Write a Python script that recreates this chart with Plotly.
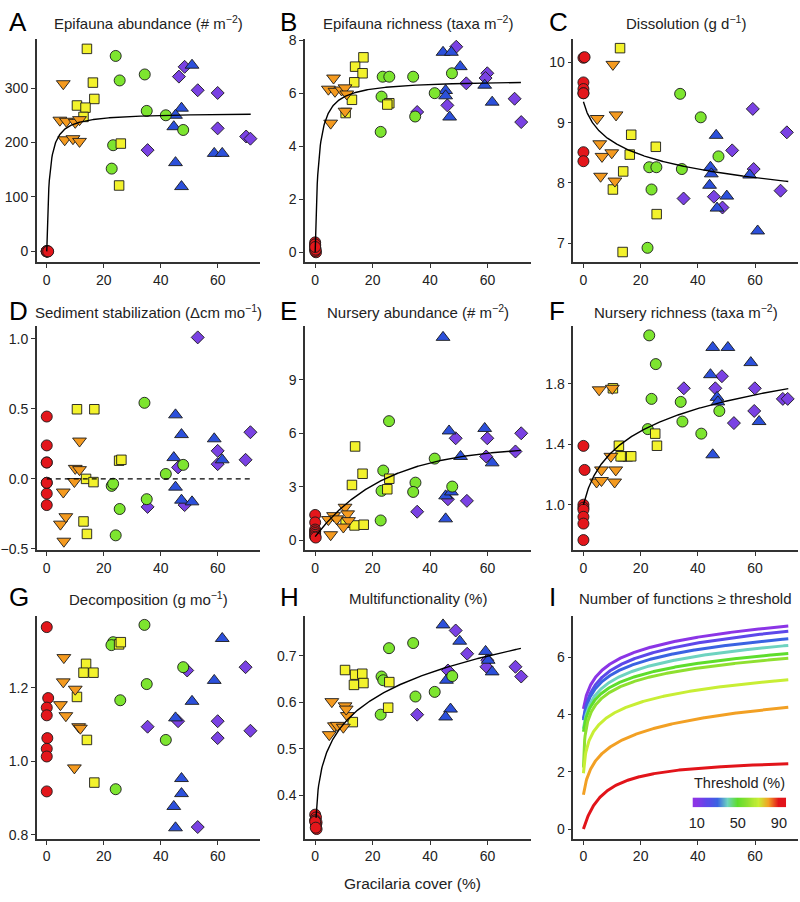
import numpy as np
import plotly.graph_objects as go

W, H = 800, 902

# ---------------- data (Gracilaria cover %, response) ----------------
epifauna_abundance = {
    "red":    ([0, 0, 0, 0, 0.3, 0.3, 0, 0.5], [0, 0, 0, 0, 0, 0, 0, 0]),
    "orange": ([5.8, 4.6, 6.9, 6.3, 9.2, 10, 11.5, 11.5], [308, 241, 239, 205, 207, 237, 202, 242]),
    "yellow": ([14.1, 16.2, 16.7, 10.6, 13.6, 12.9, 26, 25.4], [372, 310, 280, 268, 264, 247, 198, 121]),
    "green":  ([24.2, 25.6, 34.4, 35.1, 41.8, 47.9, 23.3, 22.8], [359, 314, 325, 258, 250, 223, 195, 152]),
    "blue":   ([51, 47.3, 45.2, 44.6, 45.2, 47.3, 58.8, 61.6], [342, 263, 250, 229, 163, 119, 180, 180]),
    "purple": ([48.4, 46.4, 53, 60, 60, 35.4, 70, 71.5], [339, 321, 296, 291, 226, 186, 211, 207]),
}
epifauna_richness = {
    "red":    ([0, 0, 0, 0.3, 0, 0, 0.2, 0], [0.375, 0.25, 0.125, 0, 0.05, 0.3, 0.1, 0.2]),
    "orange": ([6.4, 4.6, 6.9, 5.4, 9.2, 10.4, 11, 10.4], [6.57, 6.15, 6.07, 4.87, 6.12, 6.2, 5.97, 5.32]),
    "yellow": ([16.8, 13.9, 16.5, 13.6, 12.8, 10.6, 25.8, 25.1], [7.35, 7.0, 6.75, 6.41, 5.75, 5.25, 5.62, 5.57]),
    "green":  ([23.5, 25.8, 34.1, 23.1, 22.8, 34.8, 41.6, 47.6], [6.62, 6.62, 6.62, 5.87, 4.54, 5.12, 6.0, 6.75]),
    "blue":   ([44.5, 47.4, 50.5, 45.4, 45.4, 46.8, 59, 61.6], [7.54, 7.54, 7.0, 6.1, 5.9, 5.1, 6.3, 5.66]),
    "purple": ([49.1, 52.6, 59.9, 59.3, 46, 35.5, 69.4, 71.7], [7.75, 6.37, 6.75, 6.57, 5.54, 5.29, 5.79, 4.91]),
}
dissolution = {
    "red":    ([0, 0.4, 0, 0, 0, 0, 0, 0], [10.08, 10.09, 9.67, 9.56, 9.49, 8.51, 8.36, 9.49]),
    "orange": ([10.3, 4.8, 11.4, 5.7, 6.5, 9.9, 6.0, 11.0], [9.97, 9.07, 9.13, 8.65, 8.44, 8.5, 8.11, 8.03]),
    "yellow": ([12.8, 16.7, 16.2, 25.3, 13.9, 10.3, 25.6, 13.7], [10.24, 8.8, 8.47, 8.6, 8.19, 7.89, 7.48, 6.85]),
    "green":  ([33.8, 41, 47.2, 34.4, 23, 25.5, 23.8, 22.4], [9.48, 9.09, 8.44, 8.23, 8.26, 8.26, 7.89, 6.92]),
    "blue":   ([46.4, 44.4, 44.7, 44.1, 58.1, 50.1, 46.7, 60.9], [8.79, 8.26, 8.15, 7.96, 8.13, 7.78, 7.58, 7.2]),
    "purple": ([59.2, 71.1, 52, 59.5, 35, 45.6, 48.6, 68.9], [9.23, 8.84, 8.54, 8.23, 7.74, 7.77, 7.59, 7.87]),
}
sediment_stabilization = {
    "red":    ([0, 0, 0, 0, 0, 0, 0, 0], [0.445, 0.239, 0.117, -0.028, -0.105, -0.187, 0.117, -0.028]),
    "orange": ([11.5, 10, 11.5, 9.7, 5.8, 4.8, 6.7, 6.0], [0.27, 0.075, 0.066, -0.019, -0.094, -0.323, -0.27, -0.445]),
    "yellow": ([10.6, 16.7, 13.8, 16.4, 12.9, 14.1, 25.4, 26.2], [0.497, 0.497, 0.0, -0.023, -0.304, -0.393, 0.13, 0.136]),
    "green":  ([34.3, 22.8, 23.3, 25.6, 24.2, 35.1, 41.8, 47.9], [0.543, -0.05, -0.035, -0.215, -0.403, -0.145, 0.035, 0.1]),
    "blue":   ([45.2, 47.3, 44.6, 45.2, 47.3, 51, 58.8, 61.6], [0.457, 0.316, 0.152, -0.059, -0.152, -0.164, 0.286, 0.136]),
    "purple": ([53, 60, 60, 69.8, 71.5, 46.1, 48.4, 35.4], [1.01, 0.2, 0.105, 0.136, 0.333, 0.082, -0.187, -0.2]),
}
nursery_abundance = {
    "red":    ([0, 0, 0, 0, 0, 0, 0, 0.2], [1.42, 1.0, 0.6, 0.5, 0.4, 0.3, 0.2, 0.15]),
    "orange": ([10.4, 4.6, 6.4, 7.5, 11.3, 11.6, 5.4, 9.8], [1.85, 1.16, 1.38, 1.2, 1.48, 1.1, 0.31, 0.74]),
    "yellow": ([13.9, 16.5, 12.8, 25.8, 25.1, 10.6, 13.7, 16.9], [5.26, 3.73, 3.1, 3.45, 2.86, 0.98, 0.83, 0.87]),
    "green":  ([25.7, 23.7, 23.1, 22.8, 34.9, 34.1, 41.6, 47.7], [6.68, 3.91, 2.77, 1.11, 3.23, 2.71, 4.58, 3.01]),
    "blue":   ([44.5, 46.6, 59, 50.6, 61.6, 45.4, 47.4, 45.4], [11.38, 6.13, 6.27, 4.7, 4.34, 2.49, 2.71, 1.2]),
    "purple": ([48.9, 59.9, 71.7, 59.5, 69.7, 46.2, 52.8, 35.5], [5.72, 5.72, 6.0, 4.7, 4.98, 2.3, 2.21, 1.6]),
}
nursery_richness = {
    "red":    ([0, 0.4, 0, 0, 0, 0, 0, 0], [1.389, 1.23, 1.0, 0.98, 0.967, 0.92, 0.875, 0.766]),
    "orange": ([5.5, 10.1, 9.6, 6.3, 11.3, 4.6, 6.3, 10.9], [1.76, 1.77, 1.32, 1.23, 1.23, 1.15, 1.16, 1.15]),
    "yellow": ([10.3, 12.4, 13.6, 15.5, 16.7, 25.1, 25.7, 13.0], [1.77, 1.39, 1.32, 1.32, 1.32, 1.47, 1.39, 1.32]),
    "green":  ([23, 25.3, 23.8, 22.5, 34, 34.6, 41.2, 47.5], [2.12, 1.93, 1.70, 1.50, 1.68, 1.55, 1.47, 1.62]),
    "blue":   ([45.2, 50.5, 58.5, 44.4, 46.7, 47, 61.4, 45.2], [2.04, 2.04, 1.94, 1.86, 1.71, 1.68, 1.55, 1.33]),
    "purple": ([48.4, 35.1, 46.1, 59.9, 59.7, 52.6, 69.7, 71.4], [1.85, 1.77, 1.77, 1.77, 1.62, 1.54, 1.70, 1.70]),
}
decomposition = {
    "red":    ([0, 0.5, 0, 0, 0.2, 0, 0, 0], [1.365, 1.172, 1.146, 1.125, 1.063, 1.034, 1.013, 0.918]),
    "orange": ([6, 5.8, 4.8, 6.7, 10, 11.2, 11.8, 9.7], [1.282, 1.216, 1.154, 1.124, 1.196, 1.094, 1.09, 0.982]),
    "yellow": ([13.8, 12.9, 16.4, 10.6, 14.1, 16.7, 25.4, 26], [1.265, 1.241, 1.241, 1.175, 1.058, 0.942, 1.318, 1.324]),
    "green":  ([34.3, 23.3, 22.7, 47.9, 35.1, 25.8, 41.8, 24.2], [1.371, 1.324, 1.316, 1.256, 1.21, 1.166, 1.058, 0.924]),
    "blue":   ([61.6, 58.8, 51, 45.2, 47.3, 47.3, 44.6, 45.2], [1.334, 1.22, 1.163, 1.118, 0.953, 0.912, 0.877, 0.819]),
    "purple": ([69.8, 49.3, 46.1, 60, 60, 71.5, 35.4, 53], [1.256, 1.247, 1.109, 1.109, 1.063, 1.083, 1.094, 0.821]),
}
multifunctionality = {
    "red":    ([0, 0.3, 0, 0.5, 0.3, 0.5, 0, 0.2], [0.358, 0.352, 0.346, 0.341, 0.336, 0.327, 0.343, 0.33]),
    "orange": ([5.8, 10.4, 11.2, 4.9, 6.7, 7.7, 9.8, 10.8], [0.601, 0.592, 0.571, 0.530, 0.549, 0.550, 0.546, 0.585]),
    "yellow": ([10.4, 13.9, 16.4, 13.5, 16.8, 13.1, 25.4, 25.8], [0.669, 0.659, 0.661, 0.637, 0.641, 0.557, 0.588, 0.643]),
    "green":  ([25.7, 34.1, 23.1, 23.7, 22.8, 34.9, 41.6, 47.7], [0.716, 0.727, 0.655, 0.647, 0.573, 0.612, 0.622, 0.656]),
    "blue":   ([44.5, 50.3, 59.3, 61.6, 45.7, 47.1, 45.4, 60.2], [0.766, 0.731, 0.709, 0.665, 0.647, 0.585, 0.568, 0.69]),
    "purple": ([48.9, 52.9, 46.2, 59.9, 59.6, 69.7, 71.7, 35.5], [0.754, 0.704, 0.668, 0.69, 0.676, 0.676, 0.655, 0.573]),
}

# fitted model lines (kind, parameters)
fit_A = ("mm", (255, 0.86))
fit_B = ("mm", (6.5, 1.1))
fit_C = ("log", (9.605, -0.368, 2.0))
fit_E = ("exp", (0.2, 5.1, 24.0))
fit_F = ("log", (0.737, 0.239, 3.0))
fit_H = ("pow", (0.4106, 0.13))
cover_max = 71.6

# panel I: number of functions >= threshold
thresholds = [10, 20, 30, 40, 50, 60, 70, 80, 90]
threshold_colors = ["#8B35E6", "#5C48EA", "#3A63E2", "#6ED3C0", "#5EDD2C",
                    "#8FE030", "#C8EE35", "#F2A024", "#E2141A"]
threshold_fits = [
    ("log", (4.167, 0.683, 1.05)),
    ("log", (3.886, 0.705, 0.95)),
    ("log", (3.834, 0.657, 0.95)),
    ("log", (3.644, 0.647, 0.80)),
    ("log", (3.572, 0.598, 0.75)),
    ("log", (3.485, 0.580, 0.10)),
    ("log", (2.553, 0.623, 0.38)),
    ("log", (1.200, 0.714, 1.00)),
    ("mm", (2.51, 7.29)),
]
threshold_scale_range = (6, 97)
threshold_ticks = [10, 50, 90]

group_order = ["purple", "blue", "green", "yellow", "orange", "red"]
group_style = {
    "red":    dict(symbol="circle", color="#E3161B", size=11),
    "orange": dict(symbol="triangle-down", color="#F49A1F", size=12),
    "yellow": dict(symbol="square", color="#F3F22C", size=9.5),
    "green":  dict(symbol="circle", color="#7DE52F", size=11),
    "blue":   dict(symbol="triangle-up", color="#2C50DB", size=12),
    "purple": dict(symbol="diamond", color="#7A42E3", size=10),
}


def model(kind, p, x):
    if kind == "mm":
        return p[0] * x / (p[1] + x)
    if kind == "log":
        return p[0] + p[1] * np.log(x + p[2])
    if kind == "exp":
        return p[0] + p[1] * (1 - np.exp(-x / p[2]))
    if kind == "pow":
        return p[0] * x ** p[1]


panels = [
    ("A", "Epifauna abundance (# m<sup>−2</sup>)", epifauna_abundance, fit_A, [-20, 391], [0, 100, 200, 300], None),
    ("B", "Epifauna richness (taxa m<sup>−2</sup>)", epifauna_richness, fit_B, [-0.375, 8.06], [0, 2, 4, 6, 8], None),
    ("C", "Dissolution (g d<sup>−1</sup>)", dissolution, fit_C, [6.68, 10.4], [7, 8, 9, 10], None),
    ("D", "Sediment stabilization (Δcm mo<sup>−1</sup>)", sediment_stabilization, None, [-0.508, 1.089], [-0.5, 0, 0.5, 1.0], ["−0.5", "0.0", "0.5", "1.0"]),
    ("E", "Nursery abundance (# m<sup>−2</sup>)", nursery_abundance, fit_E, [-0.55, 12.0], [0, 3, 6, 9], None),
    ("F", "Nursery richness (taxa m<sup>−2</sup>)", nursery_richness, fit_F, [0.70, 2.18], [1.0, 1.4, 1.8], ["1.0", "1.4", "1.8"]),
    ("G", "Decomposition (g mo<sup>−1</sup>)", decomposition, None, [0.789, 1.395], [0.8, 1.0, 1.2], ["0.8", "1.0", "1.2"]),
    ("H", "Multifunctionality (%)", multifunctionality, fit_H, [0.306, 0.785], [0.4, 0.5, 0.6, 0.7], ["0.4", "0.5", "0.6", "0.7"]),
    ("I", "Number of functions ≥ threshold", None, None, [-0.34, 7.44], [0, 2, 4, 6], None),
]

# ---------------- layout geometry (pixels) ----------------
col_px = [(33, 258), (303, 530), (573, 799)]
row_px = [(33, 260), (325, 552), (619, 845)]
title_y = [17, 310, 601]
letter_x = [3, 276, 546]
legend_bar_px = (693, 787, 803, 813)  # x0, x1, y0, y1

FONT = "Liberation Sans, Arial, Helvetica, sans-serif"
AX = "#333333"

fig = go.Figure()
layout = dict(
    width=W, height=H, margin=dict(l=0, r=0, t=0, b=0), autosize=False,
    paper_bgcolor="white", plot_bgcolor="white", showlegend=False,
    font=dict(family=FONT, size=14, color="#222"),
)
annotations = []

for i, (letter, title, data, fit, yr, yt, ytt) in enumerate(panels):
    r, c = divmod(i, 3)
    n = i + 1
    xs = "x" if n == 1 else f"x{n}"
    ys = "y" if n == 1 else f"y{n}"
    xk = "xaxis" if n == 1 else f"xaxis{n}"
    yk = "yaxis" if n == 1 else f"yaxis{n}"
    x0, x1 = col_px[c]
    y0, y1 = row_px[r]
    common = dict(showline=True, linecolor=AX, linewidth=1.6, ticks="outside", ticklen=4,
                  tickwidth=1.4, tickcolor=AX, showgrid=False, zeroline=False,
                  tickfont=dict(size=14, color="#222", family=FONT))
    layout[xk] = dict(domain=[x0 / W, x1 / W], anchor=ys, range=[-3.5, 75],
                      tickvals=[0, 20, 40, 60], **common)
    yax = dict(domain=[1 - y1 / H, 1 - y0 / H], anchor=xs, range=yr, tickvals=yt, **common)
    if ytt:
        yax["ticktext"] = ytt
    layout[yk] = yax

    annotations.append(dict(text=title, x=(x0 + x1) / 2 / W, y=1 - title_y[r] / H, xref="paper", yref="paper",
                            xanchor="center", yanchor="middle", showarrow=False,
                            font=dict(size=15, color="#222", family=FONT)))
    annotations.append(dict(text=letter, x=letter_x[c] / W, y=1 - (title_y[r] - 1) / H, xref="paper", yref="paper",
                            xanchor="left", yanchor="middle", showarrow=False,
                            font=dict(size=26, color="black", family=FONT)))

    if data is not None:
        for g in group_order:
            gx, gy = data[g]
            st = group_style[g]
            fig.add_trace(go.Scatter(x=gx, y=gy, mode="markers", xaxis=xs, yaxis=ys, hoverinfo="skip",
                                     marker=dict(symbol=st["symbol"], color=st["color"], size=st["size"],
                                                 line=dict(color="#1a1a1a", width=0.9))))
        if fit is not None:
            kind, p = fit
            xstart = 0.3 if kind == "pow" else 0.0
            xg = np.linspace(xstart, cover_max, 400)
            fig.add_trace(go.Scatter(x=xg, y=model(kind, p, xg), mode="lines", xaxis=xs, yaxis=ys,
                                     line=dict(color="black", width=1.4), hoverinfo="skip"))
        if letter == "D":
            fig.add_trace(go.Scatter(x=[0, cover_max], y=[0, 0], mode="lines", xaxis=xs, yaxis=ys,
                                     line=dict(color="black", width=1.3, dash="5px,4px"), hoverinfo="skip"))
    else:
        xg = np.linspace(0, cover_max, 500)
        for t, col, (kind, p) in zip(thresholds, threshold_colors, threshold_fits):
            fig.add_trace(go.Scatter(x=xg, y=model(kind, p, xg), mode="lines", xaxis=xs, yaxis=ys,
                                     line=dict(color=col, width=3), hoverinfo="skip", name=f"{t}%"))

# ---------- threshold colour key (heatmap on its own small axis) ----------
cmin, cmax = threshold_scale_range
scale = [[0, threshold_colors[0]]]
for t, col in zip(thresholds, threshold_colors):
    scale.append([(t - cmin) / (cmax - cmin), col])
scale.append([1, threshold_colors[-1]])
key_x = np.arange(cmin, cmax + 1, 1.0)
fig.add_trace(go.Heatmap(x=key_x, y=[0.5], z=[key_x], zmin=cmin, zmax=cmax, colorscale=scale,
                         showscale=False, xaxis="x10", yaxis="y10", hoverinfo="skip"))
bx0, bx1, by0, by1 = legend_bar_px
layout["xaxis10"] = dict(domain=[bx0 / W, bx1 / W], anchor="y10", range=[cmin, cmax],
                         tickvals=threshold_ticks, ticks="", showline=False, showgrid=False,
                         zeroline=False, ticklabelstandoff=5,
                         tickfont=dict(size=14.5, color="#222", family=FONT))
layout["yaxis10"] = dict(domain=[1 - by1 / H, 1 - by0 / H], anchor="x10", range=[0, 1], visible=False)
annotations.append(dict(text="Threshold (%)", x=(bx0 + bx1) / 2 / W, y=1 - 788 / H, xref="paper", yref="paper",
                        xanchor="center", yanchor="middle", showarrow=False,
                        font=dict(size=14.5, color="#222", family=FONT)))

annotations.append(dict(text="Gracilaria cover (%)", x=411 / W, y=1 - 890 / H, xref="paper", yref="paper",
                        xanchor="center", yanchor="middle", showarrow=False,
                        font=dict(size=15.5, color="#222", family=FONT)))
layout["annotations"] = annotations
fig.update_layout(**layout)
fig.write_html("out.html", config={"displayModeBar": False},
               post_script="document.body.style.margin='0';document.body.style.overflow='hidden';")
